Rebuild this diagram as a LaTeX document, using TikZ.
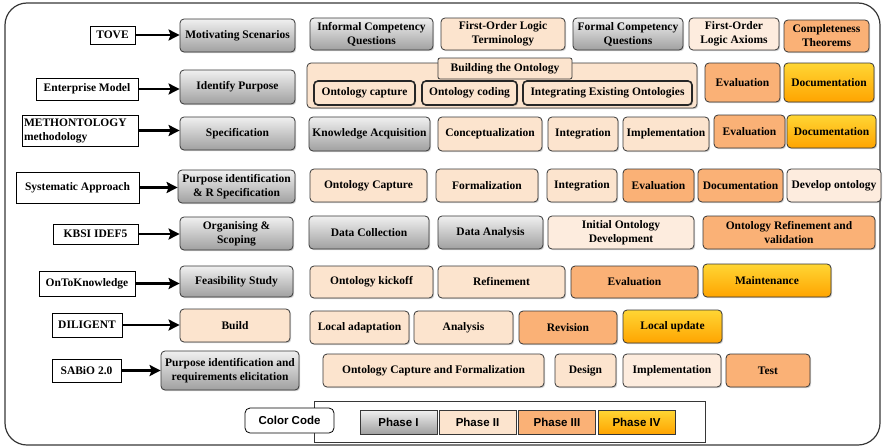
\documentclass[tikz,border=0pt]{standalone}
\usepackage{fontspec}
\setmainfont{Liberation Serif}
\setsansfont{Liberation Sans}
\usepackage{tikz}
\usetikzlibrary{shadows}
\usetikzlibrary{positioning}
\usetikzlibrary{arrows.meta,shapes}
\usetikzlibrary{calc}
\definecolor{peach}{RGB}{252,228,206}
\definecolor{peachlight}{RGB}{253,236,222}
\definecolor{apricot}{RGB}{250,177,118}
\definecolor{goldtop}{RGB}{255,214,52}
\definecolor{goldbot}{RGB}{255,164,0}
\definecolor{greytop}{RGB}{240,240,240}
\definecolor{greybot}{RGB}{160,160,160}
\definecolor{boxline}{RGB}{55,55,55}
\tikzstyle{stage}=[rectangle,rounded corners=4pt,draw=boxline,line width=0.8pt,inner sep=2pt,align=center,text=black,font=\bfseries\fontsize{11.5}{14}\selectfont,drop shadow={shadow xshift=1.2pt,shadow yshift=-1.2pt,opacity=0.35}]
\tikzstyle{phaseone}=[stage,top color=greytop,bottom color=greybot]
\tikzstyle{phasetwo}=[stage,fill=peach]
\tikzstyle{phasetwolight}=[stage,fill=peachlight]
\tikzstyle{phasethree}=[stage,fill=apricot]
\tikzstyle{phasefour}=[stage,top color=goldtop,bottom color=goldbot]
\tikzstyle{innerstage}=[phasetwo,line width=1.6pt,draw=black!85]
\tikzstyle{method}=[rectangle,draw=black,line width=0.9pt,fill=white,inner sep=2pt,font=\bfseries\fontsize{11.5}{14}\selectfont,drop shadow={shadow xshift=1.2pt,shadow yshift=-1.2pt,opacity=0.35}]
\tikzstyle{edge}=[draw,line width=2.6pt,-{Stealth[length=11pt,width=11pt,inset=2pt]}]
\tikzstyle{frame}=[draw=boxline,line width=1.2pt,rounded corners=22pt]
\tikzstyle{legendframe}=[draw=boxline,line width=0.7pt,fill=white]
\tikzstyle{legendkey}=[rectangle,draw=boxline,line width=0.6pt,inner sep=1pt,minimum width=77pt,minimum height=24pt,font=\sffamily\bfseries\fontsize{11.5}{13}\selectfont]
\tikzstyle{keyone}=[top color=greytop,bottom color=greybot]
\tikzstyle{keytwo}=[fill=peach]
\tikzstyle{keythree}=[fill=apricot]
\tikzstyle{keyfour}=[top color=goldtop,bottom color=goldbot]
\tikzstyle{colorcode}=[rectangle,rounded corners=5pt,draw=black,line width=0.8pt,fill=white,font=\sffamily\bfseries\fontsize{11.5}{13}\selectfont]

\begin{document}
\begin{tikzpicture}[x=1pt,y=-1pt]

  \useasboundingbox (0,0) rectangle (883,447);
  \draw[frame] (5,3) rectangle (880,445);

  % approaches
  \foreach \x/\y/\w/\h/\name/\label in {112.5/35/45/18/tove/TOVE, 87/89/102/22/enterprise/Enterprise Model, 77.5/187.5/123/31/systematic/Systematic Approach, 95.5/234/85/20/kbsi/KBSI IDEF5, 87/283.5/96/25/otk/OnToKnowledge, 87/325/70/24/diligent/DILIGENT, 86.5/370.5/69/23/sabio/SABiO 2.0}
     \node[method,minimum width=\w pt,minimum height=\h pt] (\name) at (\x,\y) {\label};
  \node[method,text width=112pt,align=left,minimum height=31pt] (methontology) at (80,130.5) {METHONTOLOGY\\methodology};

  % phase I
  \foreach \x/\y/\w/\h/\name/\label in {237.5/35.5/115/33/motivating/Motivating Scenarios, 237.5/87/115/34/purpose/Identify Purpose, 237.5/133.5/115/33/specification/Specification, 236.5/186.5/117/33/purposespec/{Purpose identification\\\& R Specification}, 236.5/233.5/113/33/organising/{Organising \&\\Scoping}, 236.5/281.5/113/31/feasibility/Feasibility Study, 230/370.5/138/39/elicitation/{Purpose identification and\\requirements elicitation}, 371.5/34/123/32/informal/{Informal Competency\\Questions}, 628/34/110/32/formalcq/{Formal Competency\\Questions}, 369.5/134/121/34/knowledge/Knowledge Acquisition, 369/232.5/120/33/collection/Data Collection, 490.5/232.5/105/33/dataanalysis/Data Analysis}
     \node[phaseone,minimum width=\w pt,minimum height=\h pt] (\name) at (\x,\y) {\label};

  % phase II
  \foreach \x/\y/\w/\h/\name/\label in {235/325.5/110/33/build/Build, 503/34/124/32/terminology/{First-Order Logic\\Terminology}, 490/134/104/34/concept/Conceptualization, 583/134/70/34/integthree/Integration, 666/134/86/34/impthree/Implementation, 368.5/185.5/117/33/capturefour/Ontology Capture, 487/185.5/102/33/formalization/Formalization, 582/185.5/70/33/integfour/Integration, 371.5/282/123/32/kickoff/Ontology kickoff, 501.5/282/127/32/refinement/Refinement, 359.5/327.5/99/33/adaptation/Local adaptation, 463.5/327.5/99/33/analysis/Analysis, 433.5/370.5/221/33/capformal/Ontology Capture and Formalization, 585.5/370.5/61/33/design/Design}
     \node[phasetwo,minimum width=\w pt,minimum height=\h pt] (\name) at (\x,\y) {\label};
  \foreach \x/\y/\w/\h/\name/\label in {734/34/90/32/axioms/{First-Order\\Logic Axioms}, 834/185.5/94/33/develop/Develop ontology, 621/232.5/146/33/initial/{Initial Ontology\\Development}, 672/370.5/98/33/impeight/Implementation}
     \node[phasetwolight,minimum width=\w pt,minimum height=\h pt] (\name) at (\x,\y) {\label};

  % building the ontology
  \node[phasetwo,minimum width=390pt,minimum height=45pt] (building) at (502,85.5) {};
  \node[rectangle,rounded corners=2pt,draw=boxline,line width=0.8pt,fill=peach,minimum width=134pt,minimum height=21pt,font=\bfseries\fontsize{11.5}{14}\selectfont] (buildtitle) at (505,68.5) {Building the Ontology};
  \foreach \x/\w/\name/\label in {364.5/101/capture/Ontology capture, 469.5/95/coding/Ontology coding, 607.5/169/integrating/Integrating Existing Ontologies}
     \node[innerstage,minimum width=\w pt,minimum height=24pt] (\name) at (\x,93) {\label};

  % phase III
  \foreach \x/\y/\w/\h/\name/\label in {826.5/36/85/32/completeness/{Completeness\\Theorems}, 742.5/82.5/75/39/evaltwo/Evaluation, 749.5/131.5/71/33/evalthree/Evaluation, 658.5/185.5/71/33/evalfour/Evaluation, 740.5/185.5/85/33/docfour/Documentation, 789/232.5/172/33/refinevalid/{Ontology Refinement and\\validation}, 634.5/282/127/32/evalsix/Evaluation, 568/327.5/98/33/revision/Revision, 768/370.5/84/33/test/Test}
     \node[phasethree,minimum width=\w pt,minimum height=\h pt] (\name) at (\x,\y) {\label};

  % phase IV
  \foreach \x/\y/\w/\h/\name/\label in {829/82.5/90/39/doctwo/Documentation, 831.5/131.5/89/33/docthree/Documentation, 767/280.5/128/33/maintenance/Maintenance, 672.5/326.5/99/33/localupdate/Local update}
     \node[phasefour,minimum width=\w pt,minimum height=\h pt] (\name) at (\x,\y) {\label};

  \foreach \source/\dest in {tove/motivating, enterprise/purpose, methontology/specification, systematic/purposespec, kbsi/organising, otk/feasibility, diligent/build, sabio/elicitation}
     \draw[edge] (\source.east) -- (\source.east -| \dest.west);

  % legend
  \draw[legendframe] (314,401) rectangle (705,442);
  \node[colorcode,minimum width=89pt,minimum height=25pt] (colorcode) at (289.5,420.5) {Color Code};
  \foreach \x/\keystyle/\name/\label in {398.5/keyone/keyI/Phase I, 477.5/keytwo/keyII/Phase II, 557/keythree/keyIII/Phase III, 636.5/keyfour/keyIV/Phase IV}
     \node[legendkey,\keystyle] (\name) at (\x,422) {\label};

\end{tikzpicture}
\end{document}
